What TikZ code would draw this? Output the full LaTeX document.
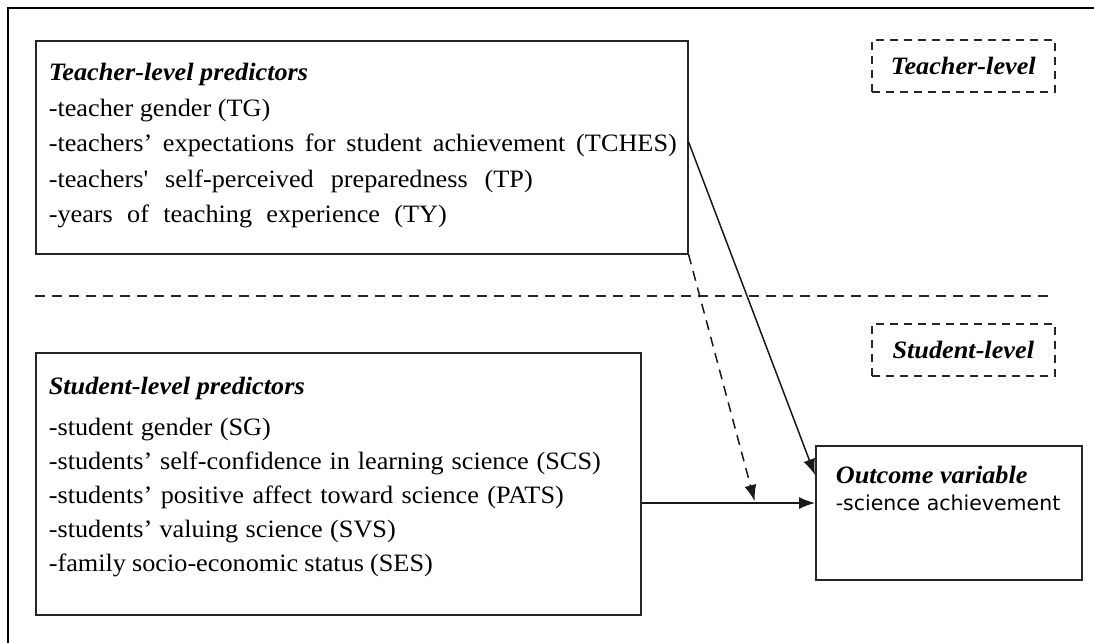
\documentclass[tikz,border=0pt]{standalone}
\usepackage{fontspec}
\setmainfont{Liberation Serif}
\newfontfamily\bodyfont[FakeStretch=1.05]{Liberation Serif}
\newfontfamily\labelsans{DejaVu Sans}
\usetikzlibrary{arrows.meta,calc}
% a line of text spread to a given width
\newcommand\spreadline[2]{\makebox[#1][s]{#2}}
\newcommand\headline[1]{{\fontsize{25}{25}\selectfont\bfseries\itshape #1}}

\begin{document}
\begin{tikzpicture}[x=1pt,y=-1pt,
  framebox/.style={draw=black!85, line width=1.6pt, anchor=north west, inner sep=0pt, fill=white,
    font=\bodyfont},
  levelbox/.style={draw=black!85, line width=1.6pt, dash pattern=on 8pt off 6pt,
    anchor=north west, minimum width=183pt, minimum height=52pt, inner sep=0pt,
    font=\bodyfont\fontsize{25}{26}\selectfont\bfseries\itshape},
  link/.style={line width=1.5pt, draw=black!90, -{Latex[length=16pt,width=12pt]}},
  dashedlink/.style={link, dash pattern=on 10pt off 7pt},
  divider/.style={line width=1.6pt, dash pattern=on 10pt off 7pt, draw=black!85}]

\useasboundingbox (0,0) rectangle (1094,642);
\fill[white] (0,0) rectangle (1094,642);
% outer frame (only its top and left sides fall on the page)
\draw[line width=1.5pt] (8,700) -- (8,8) -- (1150,8);

% level separator
\draw[divider] (35,296) -- (1054,296);

% level tags
\node[levelbox] (tlevel) at (871,39) {Teacher-level};
\node[levelbox] (slevel) at (871,323) {Student-level};

% teacher-level predictors
\node[framebox] (teacher) at (35,40) {\parbox[c][213pt][t]{652pt}{\leftskip=13pt
  \fontsize{25}{35.5}\selectfont
  \rule{0pt}{40pt}\headline{Teacher-level predictors}\\
  -teacher gender (TG)\\
  \spreadline{628pt}{-teachers’ expectations for student achievement (TCHES)}\\
  \spreadline{484pt}{-teachers' self-perceived preparedness (TP)}\\
  \spreadline{398pt}{-years of teaching experience (TY)}\par}};

% student-level predictors
\node[framebox] (student) at (35,352) {\parbox[c][262pt][t]{605pt}{\leftskip=13pt
  \fontsize{25}{34}\selectfont
  \rule{0pt}{42pt}\headline{Student-level predictors}\\[7pt]
  \spreadline{222pt}{-student gender (SG)}\\
  \spreadline{552pt}{-students’ self-confidence in learning science (SCS)}\\
  \spreadline{515pt}{-students’ positive affect toward science (PATS)}\\
  \spreadline{347pt}{-students’ valuing science (SVS)}\\
  \spreadline{384pt}{-family socio-economic status (SES)}\par}};

% outcome
\node[framebox] (outcome) at (815,445) {\parbox[c][134pt][t]{266pt}{\leftskip=20pt
  \fontsize{25}{27}\selectfont
  \rule{0pt}{38pt}\headline{Outcome variable}\\
  {\labelsans\fontsize{20.5}{27}\selectfont -science achievement}\par}};

% connectors
\coordinate (tfrom) at ($(teacher.north east)+(0,102)$);
\coordinate (sfrom) at ($(student.north east)+(0,151)$);
\coordinate (oin) at ($(outcome.north west)+(0,30)$);
\coordinate (join) at ($(sfrom)+(113,-2)$);

\draw[link] (tfrom) -- (oin);
\draw[link] (sfrom) -- (outcome.north west |- sfrom);
\draw[dashedlink] (teacher.south east) -- (join);
\end{tikzpicture}
\end{document}
